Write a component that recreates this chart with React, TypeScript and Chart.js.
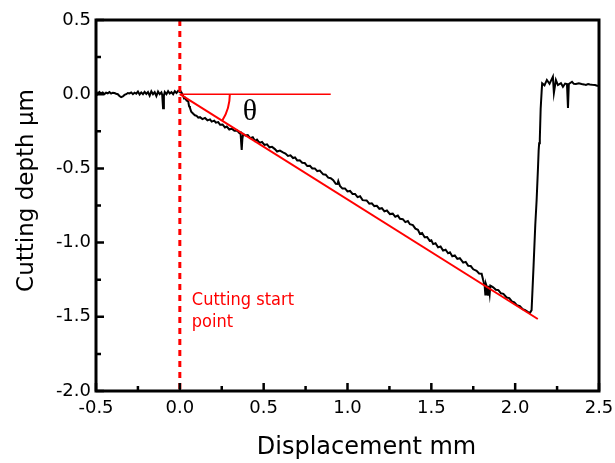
import { useEffect, useRef } from "react";
import { Chart, registerables } from "chart.js";

Chart.register(...registerables);

// Surface profile before the tool engages (flat reference surface)
const approachDisp = [
  -0.5, -0.49, -0.48, -0.47, -0.46, -0.45, -0.44, -0.43, -0.42, -0.41, -0.4, -0.39, -0.38, -0.37,
  -0.36, -0.35, -0.34, -0.33, -0.32, -0.31, -0.3, -0.29, -0.28, -0.27, -0.26, -0.25, -0.24, -0.23,
  -0.22, -0.21, -0.2, -0.19, -0.18, -0.17, -0.16, -0.15, -0.14, -0.13, -0.12, -0.11, -0.105, -0.1,
  -0.095, -0.09, -0.08, -0.07, -0.06, -0.05, -0.04, -0.03, -0.02, -0.01, 0.0,
];
const approachDepth = [
  0.02, 0.0, 0.015, 0.005, 0.012, 0.0, 0.01, 0.006, 0.014, 0.004, 0.01, 0.008, 0.003, 0.0,
  -0.012, -0.02, -0.015, -0.005, 0.0, 0.008, 0.005, 0.012, 0.0, 0.01, 0.004, 0.018, -0.002, 0.012,
  0.0, 0.016, 0.002, 0.015, -0.01, 0.02, 0.0, 0.014, -0.012, 0.018, 0.0, 0.012, -0.005, -0.095,
  -0.01, 0.015, 0.0, 0.02, 0.004, 0.014, 0.0, 0.02, 0.008, 0.022, 0.015,
];

// Groove bottom while the tool sinks along the inclined path
const cutDisp = [
  0.005, 0.011, 0.018, 0.025, 0.032, 0.04, 0.05, 0.055, 0.06, 0.068, 0.08, 0.09, 0.1, 0.11, 0.12,
  0.135, 0.15, 0.165, 0.18, 0.19, 0.205, 0.215, 0.229, 0.24, 0.255, 0.269, 0.28, 0.295, 0.31, 0.325,
  0.34, 0.355, 0.362, 0.366, 0.369, 0.373, 0.378, 0.39, 0.405, 0.42, 0.435, 0.448, 0.46, 0.475,
  0.49, 0.505, 0.52, 0.535, 0.55, 0.567, 0.58, 0.597, 0.615, 0.63, 0.645, 0.66, 0.675, 0.687, 0.7,
  0.715, 0.73, 0.745, 0.76, 0.776, 0.79, 0.805, 0.82, 0.835, 0.855, 0.87, 0.885, 0.9, 0.915, 0.93,
  0.94, 0.945, 0.955, 0.97, 0.985, 1.0, 1.015, 1.03, 1.045, 1.06, 1.075, 1.09, 1.114, 1.13, 1.145,
  1.16, 1.175, 1.19, 1.205, 1.22, 1.235, 1.253, 1.27, 1.285, 1.3, 1.313, 1.33, 1.345, 1.36, 1.372,
  1.39, 1.405, 1.42, 1.432, 1.445, 1.46, 1.475, 1.49, 1.5, 1.511, 1.525, 1.54, 1.555, 1.57, 1.585,
  1.6, 1.611, 1.625, 1.64, 1.655, 1.67, 1.69, 1.705, 1.72, 1.735, 1.75, 1.77, 1.785, 1.8, 1.809,
  1.818, 1.822, 1.826, 1.832, 1.838, 1.842, 1.848, 1.852, 1.86, 1.869, 1.885, 1.9, 1.915, 1.93,
  1.949, 1.965, 1.98, 1.995, 2.01, 2.028, 2.045, 2.06, 2.075, 2.088,
];
const cutDepth = [
  0.02, 0.01, -0.006, -0.028, -0.024, -0.042, -0.048, -0.08, -0.09, -0.118, -0.132, -0.142, -0.146,
  -0.158, -0.155, -0.168, -0.16, -0.176, -0.17, -0.185, -0.178, -0.192, -0.188, -0.206, -0.204,
  -0.224, -0.218, -0.238, -0.232, -0.246, -0.244, -0.262, -0.258, -0.33, -0.376, -0.3, -0.268,
  -0.278, -0.276, -0.296, -0.29, -0.314, -0.306, -0.328, -0.322, -0.342, -0.338, -0.358, -0.355,
  -0.37, -0.386, -0.38, -0.392, -0.4, -0.416, -0.412, -0.43, -0.426, -0.446, -0.445, -0.462,
  -0.464, -0.484, -0.482, -0.5, -0.5, -0.518, -0.515, -0.54, -0.542, -0.562, -0.566, -0.58,
  -0.604, -0.605, -0.585, -0.618, -0.636, -0.635, -0.655, -0.652, -0.672, -0.672, -0.694, -0.688,
  -0.714, -0.716, -0.738, -0.735, -0.754, -0.752, -0.772, -0.768, -0.79, -0.784, -0.808, -0.805,
  -0.826, -0.818, -0.84, -0.842, -0.862, -0.855, -0.876, -0.882, -0.906, -0.914, -0.942, -0.935,
  -0.964, -0.962, -0.988, -0.984, -1.01, -1.004, -1.032, -1.026, -1.054, -1.048, -1.072, -1.065,
  -1.092, -1.086, -1.11, -1.105, -1.135, -1.13, -1.156, -1.158, -1.18, -1.19, -1.208, -1.21,
  -1.252, -1.29, -1.35, -1.28, -1.3, -1.352, -1.29, -1.345, -1.29, -1.295, -1.301, -1.318, -1.32,
  -1.342, -1.345, -1.37, -1.374, -1.396, -1.402, -1.422, -1.428, -1.449, -1.455, -1.466, -1.474,
];

// Tool withdrawal and the surface beyond the groove
const exitDisp = [
  2.098, 2.11, 2.12, 2.128, 2.136, 2.14, 2.143, 2.147, 2.152, 2.158, 2.161, 2.175, 2.189, 2.205,
  2.225, 2.231, 2.243, 2.255, 2.273, 2.285, 2.298, 2.309, 2.315, 2.32, 2.339, 2.35, 2.362, 2.38,
  2.396, 2.41, 2.422, 2.435, 2.446, 2.46, 2.476, 2.494,
];
const exitDepth = [
  -1.455, -1.15, -0.88, -0.713, -0.5, -0.38, -0.33, -0.3, -0.1, 0.02, 0.073, 0.06, 0.096, 0.07,
  0.118, 0.008, 0.096, 0.062, 0.075, 0.05, 0.072, 0.069, -0.093, 0.069, 0.084, 0.07, 0.069, 0.074,
  0.069, 0.066, 0.062, 0.068, 0.065, 0.063, 0.062, 0.055,
];

// Guide lines: start of cut, reference horizontal, fitted cutting path
const startLineX = [0, 0];
const startLineY = [0.5, -2.0];
const refLineX = [0, 0.9];
const refLineY = [0, 0];
const slopeLineX = [0, 2.135];
const slopeLineY = [0, -1.515];

// Axis ranges and tick spacing
const xRange = [-0.5, 2.5];
const yRange = [-2.0, 0.5];
const majorStep = 0.5;
const minorStep = 0.25;

const FONT = "'DejaVu Sans', sans-serif";
const NOTE_FONT = "'DejaVu Sans Condensed', 'DejaVu Sans', sans-serif";
const RED = "#ff0000";

const pts = (xs: number[], ys: number[]) => xs.map((x, i) => ({ x, y: ys[i] }));

const decorPlugin = {
  id: "decor",
  afterDatasetsDraw(chart: any) {
    const { ctx, chartArea: a, scales } = chart;
    const xs = scales.x;
    const ys = scales.y;
    ctx.save();

    // angle arc between the horizontal and the cutting path
    const cx = xs.getPixelForValue(slopeLineX[0]);
    const cy = ys.getPixelForValue(slopeLineY[0]);
    const ex = xs.getPixelForValue(slopeLineX[1]);
    const ey = ys.getPixelForValue(slopeLineY[1]);
    const ang = Math.atan2(ey - cy, ex - cx);
    ctx.strokeStyle = RED;
    ctx.lineWidth = 2;
    ctx.beginPath();
    ctx.arc(cx, cy, 50, 0, ang);
    ctx.stroke();

    ctx.fillStyle = "#000";
    ctx.font = "30px 'Liberation Serif', serif";
    ctx.textAlign = "center";
    ctx.textBaseline = "middle";
    ctx.fillText("\u03b8", cx + 70, cy + 18);

    // start point note
    ctx.fillStyle = RED;
    ctx.font = `18px ${NOTE_FONT}`;
    ctx.textAlign = "left";
    ctx.textBaseline = "alphabetic";
    ctx.fillText("Cutting start", cx + 12, a.bottom - 86);
    ctx.fillText("point", cx + 12, a.bottom - 64);

    // frame
    ctx.strokeStyle = "#000";
    ctx.lineWidth = 3;
    ctx.strokeRect(a.left, a.top, a.right - a.left, a.bottom - a.top);

    // inward ticks
    ctx.lineWidth = 2.5;
    ctx.beginPath();
    for (let v = xRange[0]; v <= xRange[1] + 1e-9; v += minorStep) {
      const px = xs.getPixelForValue(v);
      const major = Math.abs(v / majorStep - Math.round(v / majorStep)) < 1e-6;
      const len = major ? 8 : 5;
      ctx.moveTo(px, a.bottom);
      ctx.lineTo(px, a.bottom - len);
    }
    for (let v = yRange[0]; v <= yRange[1] + 1e-9; v += minorStep) {
      const py = ys.getPixelForValue(v);
      const major = Math.abs(v / majorStep - Math.round(v / majorStep)) < 1e-6;
      const len = major ? 8 : 5;
      ctx.moveTo(a.left, py);
      ctx.lineTo(a.left + len, py);
    }
    ctx.stroke();

    // axis titles
    ctx.fillStyle = "#000";
    ctx.font = `24px ${FONT}`;
    ctx.textAlign = "center";
    ctx.textBaseline = "alphabetic";
    ctx.fillText("Displacement mm", (a.left + a.right) / 2 + 19, a.bottom + 63);

    ctx.save();
    ctx.translate(a.left - 63, (a.top + a.bottom) / 2 - 15);
    ctx.rotate(-Math.PI / 2);
    ctx.font = `23px ${FONT}`;
    ctx.fillText("Cutting depth \u03bcm", 0, 0);
    ctx.restore();

    ctx.restore();
  },
};

export default function App() {
  const canvasRef = useRef<HTMLCanvasElement | null>(null);

  useEffect(() => {
    const canvas = canvasRef.current;
    if (!canvas) return;
    const profile = [
      ...pts(approachDisp, approachDepth),
      ...pts(cutDisp, cutDepth),
      ...pts(exitDisp, exitDepth),
    ];
    const tickFont = { family: FONT, size: 18 };
    const fmt = (v: any) => Number(v).toFixed(1);

    const chart = new Chart(canvas, {
      type: "scatter",
      data: {
        datasets: [
          {
            data: pts(startLineX, startLineY),
            showLine: true,
            borderColor: RED,
            borderWidth: 3,
            borderDash: [6, 5],
            pointRadius: 0,
          },
          {
            data: pts(slopeLineX, slopeLineY),
            showLine: true,
            borderColor: RED,
            borderWidth: 2,
            pointRadius: 0,
          },
          {
            data: pts(refLineX, refLineY),
            showLine: true,
            borderColor: RED,
            borderWidth: 1.6,
            pointRadius: 0,
          },
          {
            data: profile,
            showLine: true,
            borderColor: "#000",
            borderWidth: 2,
            pointRadius: 0,
            tension: 0,
          },
        ],
      },
      options: {
        animation: false,
        responsive: true,
        maintainAspectRatio: false,
        layout: { padding: { top: 20, right: 16, left: 0, bottom: 0 } },
        plugins: { legend: { display: false }, tooltip: { enabled: false } },
        scales: {
          x: {
            type: "linear",
            min: xRange[0],
            max: xRange[1],
            ticks: {
              stepSize: majorStep,
              callback: fmt,
              font: tickFont,
              color: "#000",
              padding: 7,
              maxRotation: 0,
              autoSkip: false,
            },
            grid: { display: false, drawTicks: false },
            border: { display: false },
            afterFit: (s: any) => {
              s.height = 72;
              s.paddingLeft = 0;
              s.paddingRight = 0;
            },
          },
          y: {
            type: "linear",
            min: yRange[0],
            max: yRange[1],
            ticks: {
              stepSize: majorStep,
              callback: fmt,
              font: tickFont,
              color: "#000",
              padding: 5,
              autoSkip: false,
            },
            grid: { display: false, drawTicks: false },
            border: { display: false },
            afterFit: (s: any) => {
              s.width = 96;
              s.paddingTop = 0;
              s.paddingBottom = 0;
            },
          },
        },
      },
      plugins: [decorPlugin],
    });
    return () => chart.destroy();
  }, []);

  return (
    <div style={{ position: "fixed", left: 0, top: 0, width: 615, height: 463, background: "#fff" }}>
      <canvas ref={canvasRef} />
    </div>
  );
}
